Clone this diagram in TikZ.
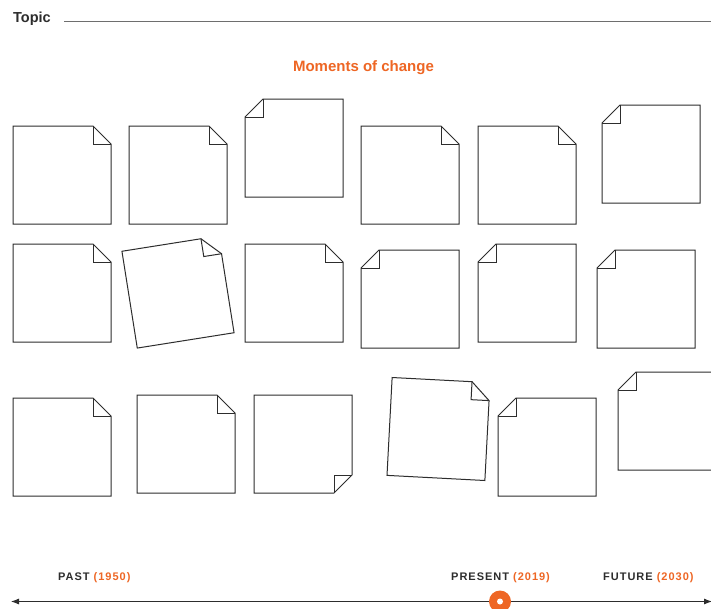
\documentclass[tikz,border=0pt]{standalone}
\usepackage{fontspec}
\setmainfont{Liberation Sans}
\usetikzlibrary{arrows.meta}
\definecolor{orng}{RGB}{238,102,36}
\definecolor{ink}{RGB}{45,45,45}
\definecolor{rule}{RGB}{110,110,110}
\tikzset{
  notepath/.style={draw=ink, line width=1pt, fill=white, line join=miter},
  foldpath/.style={draw=ink, line width=1pt, line join=miter},
  tllabel/.style={anchor=base west, inner sep=0pt, text=ink, font=\fontsize{11}{12}\selectfont\bfseries\addfontfeature{LetterSpace=9}},
}
\newcommand\noteTR[3]{\begin{scope}[shift={(#1,#2)},rotate=#3]
\draw[notepath] (-49,-49) -- (31,-49) -- (49,-31) -- (49,49) -- (-49,49) -- cycle;
\draw[foldpath] (31,-49) -- (31,-31) -- (49,-31);
\end{scope}}
\newcommand\noteTL[3]{\begin{scope}[shift={(#1,#2)},rotate=#3]
\draw[notepath] (-31,-49) -- (49,-49) -- (49,49) -- (-49,49) -- (-49,-31) -- cycle;
\draw[foldpath] (-31,-49) -- (-31,-31) -- (-49,-31);
\end{scope}}
\newcommand\noteBR[3]{\begin{scope}[shift={(#1,#2)},rotate=#3]
\draw[notepath] (-49,-49) -- (49,-49) -- (49,31) -- (31,49) -- (-49,49) -- cycle;
\draw[foldpath] (49,31) -- (31,31) -- (31,49);
\end{scope}}
\begin{document}
\begin{tikzpicture}[x=1pt,y=-1pt]
\clip (0,0) rectangle (711,608);
\fill[white] (0,0) rectangle (711,608);
% header
\node[anchor=base west, inner sep=0pt, text=ink, font=\fontsize{14.5}{16}\selectfont\bfseries] (topic) at (13,22) {Topic};
\coordinate (ruleL) at (64,21);
\coordinate (ruleR) at (711,21);
\draw[rule, line width=0.8pt] (ruleL) -- (ruleR);
\node[anchor=base, inner sep=0pt, text=orng, font=\fontsize{15}{17}\selectfont\bfseries] (title) at (363.5,71) {Moments of change};
% notes row 1
\noteTR{62}{175}{0}
\noteTR{178}{175}{0}
\noteTL{294}{148}{0}
\noteTR{410}{175}{0}
\noteTR{527}{175}{0}
\noteTL{651}{154}{0}
% row 2
\noteTR{62}{293}{0}
\noteTR{178}{292}{9}
\noteTR{294}{293}{0}
\noteTL{410}{299}{0}
\noteTL{527}{293}{0}
\noteTL{646}{299}{0}
% row 3
\noteTR{62}{447}{0}
\noteTR{186}{444}{0}
\noteBR{303}{444}{0}
\noteTR{438.5}{429}{-3}
\noteTL{547}{447}{0}
\noteTL{667}{421}{0}
% timeline
\node[tllabel] (past) at (58,580) {PAST \textcolor{orng}{(1950)}};
\node[tllabel] (present) at (451,580) {PRESENT \textcolor{orng}{(2019)}};
\node[tllabel] (future) at (603,580) {FUTURE \textcolor{orng}{(2030)}};
\coordinate (tlL) at (11,601.5);
\coordinate (tlR) at (712,601.5);
\draw[ink, line width=0.8pt, {Latex[length=8pt,width=6pt]}-{Latex[length=8pt,width=6pt]}] (tlL) -- (tlR);
\node[circle, fill=orng, minimum size=22pt, inner sep=0pt] (now) at (500,601.5) {};
\node[circle, fill=white, minimum size=6pt, inner sep=0pt] (nowdot) at (now.center) {};
\end{tikzpicture}
\end{document}
